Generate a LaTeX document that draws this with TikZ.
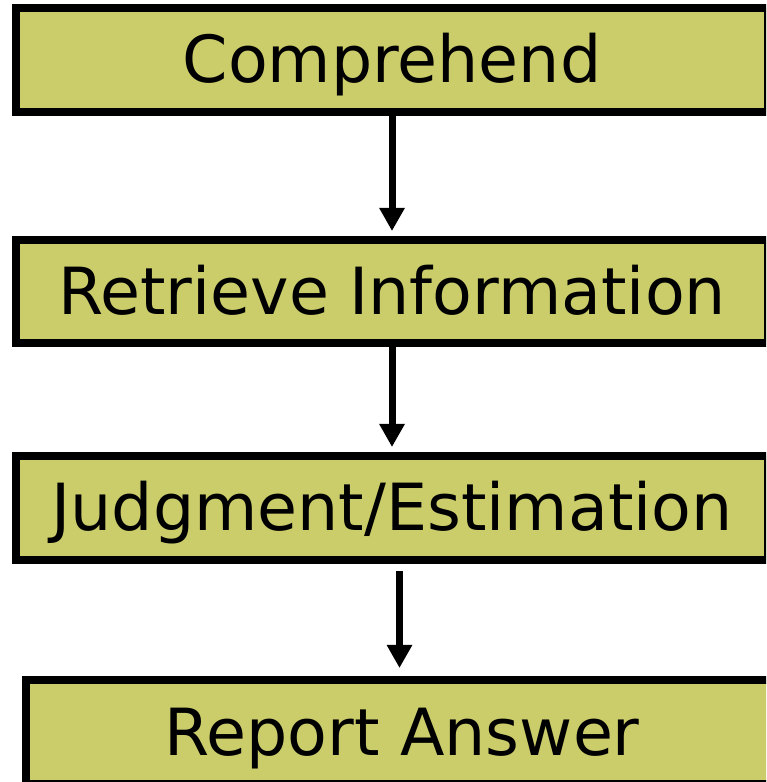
\documentclass[tikz,border=0pt]{standalone}
\usepackage{fontspec}
\setmainfont{DejaVu Sans}
\usetikzlibrary{arrows.meta}

\definecolor{stagefill}{RGB}{203,204,106}

\tikzset{
  stage/.style={draw=black, line width=8pt, fill=stagefill, inner sep=0pt,
    minimum width=752pt, minimum height=104pt,
    text height=47pt, text depth=1pt,
    font=\fontsize{65}{78}\selectfont},
  flow/.style={line width=7pt, -{Triangle[width=24pt,length=23pt]}}
}

\begin{document}
\begin{tikzpicture}[x=1pt,y=1pt]
\useasboundingbox (0,0) rectangle (766,782);
\clip (0,0) rectangle (766,782);

\node[stage] (comp) at (392,722) {Comprehend};
\node[stage, minimum height=103pt] (retr) at (392,490.5) {Retrieve Information};
\node[stage] (judg) at (392,274) {Judgment/Estimation};
\node[stage] (rep) at (402,50) {Report Answer}; % runs off the page

\draw[flow, shorten >=5pt] (comp.south) -- (retr.north);
\draw[flow, shorten >=5pt] (retr.south) -- (judg.north);
\draw[flow, shorten <=7pt, shorten >=8pt]
     ([xshift=7.5pt]judg.south) -- ([xshift=-2.5pt]rep.north);
\end{tikzpicture}
\end{document}
